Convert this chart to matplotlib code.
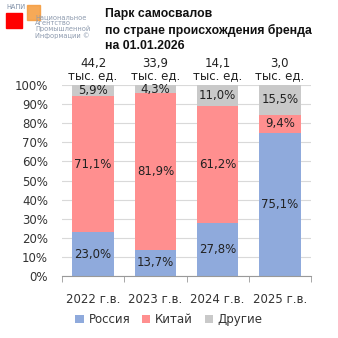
import matplotlib
matplotlib.use("Agg")
import matplotlib.pyplot as plt
import numpy as np
from matplotlib.patches import Rectangle

years = ["2022 г.в.", "2023 г.в.", "2024 г.в.", "2025 г.в."]
totals = ["44,2", "33,9", "14,1", "3,0"]
russia = [23.0, 13.7, 27.8, 75.1]
china = [71.1, 81.9, 61.2, 9.4]
other = [5.9, 4.3, 11.0, 15.5]

series = [("Россия", russia, "#8FAADC"), ("Китай", china, "#FF8F8F"), ("Другие", other, "#C9C9C9")]

plt.rcParams["font.family"] = ["DejaVu Sans"]

fig = plt.figure(figsize=(3.38, 3.38), dpi=100)
ax = fig.add_axes([62 / 338, 1 - 276 / 338, 249 / 338, 191 / 338])

x = np.arange(len(years))
bottom = np.zeros(len(years))
for name, vals, color in series:
    vals = np.array(vals)
    ax.bar(x, vals, 0.67, bottom=bottom, color=color, label=name, zorder=2)
    for xi, b, v in zip(x, bottom, vals):
        ax.text(xi, b + v / 2, f"{v:.1f}%".replace(".", ","), ha="center", va="center",
                fontsize=8.5, color="#222222", zorder=3)
    bottom += vals

for xi, t in zip(x, totals):
    ax.text(xi, 101.5, f"{t}\nтыс. ед.", ha="center", va="bottom", fontsize=8.5,
            color="#222222", linespacing=0.95)

ax.set_xlim(-0.5, 3.5)
ax.set_ylim(0, 100)
ax.set_yticks(np.arange(0, 101, 10))
ax.set_yticklabels([f"{v}%" for v in range(0, 101, 10)], fontsize=8.5, color="#333333")
ax.set_xticks(x)
ax.set_xticklabels(years, fontsize=8.5, color="#333333")
ax.tick_params(axis="y", length=0, pad=10)
ax.tick_params(axis="x", length=0, pad=12)
ax.set_xticks(np.arange(-0.5, 4.0, 1.0), minor=True)
ax.tick_params(axis="x", which="minor", length=4, color="#999999")
ax.grid(axis="y", color="#D9D9D9", linewidth=0.8, zorder=0)
for s in ["top", "right", "left"]:
    ax.spines[s].set_visible(False)
ax.spines["bottom"].set_color("#999999")

ax.legend(loc="center", bbox_to_anchor=(0.43, -0.23), ncol=3, frameon=False,
          fontsize=8.5, handlelength=0.7, handleheight=0.7, columnspacing=1.0,
          handletextpad=0.4, labelcolor="#333333")

fig.text(105 / 338, 1 - 8 / 338, "Парк самосвалов\nпо стране происхождения бренда\nна 01.01.2026",
         ha="left", va="top", fontsize=8.8, fontweight="bold", family="Liberation Sans",
         linespacing=1.38, color="#111111")

# logo
fig.patches.append(Rectangle((6 / 338, 1 - 28 / 338), 16 / 338, 15 / 338,
                             transform=fig.transFigure, color="#FF0000", zorder=1))
fig.patches.append(Rectangle((27 / 338, 1 - 20 / 338), 13 / 338, 15 / 338,
                             transform=fig.transFigure, color="#F59A3A", alpha=0.85, zorder=2))
fig.text(6 / 338, 1 - 4 / 338, "НАПИ", fontsize=4.8, color="#7F8FA6", va="top", ha="left")
fig.text(35 / 338, 1 - 14 / 338, "Национальное\nАгентство\nПромышленной\nИнформации ©",
         fontsize=4.8, color="#8D9AAE", va="top", ha="left", linespacing=1.0)

fig.savefig("out.png", dpi=100)
